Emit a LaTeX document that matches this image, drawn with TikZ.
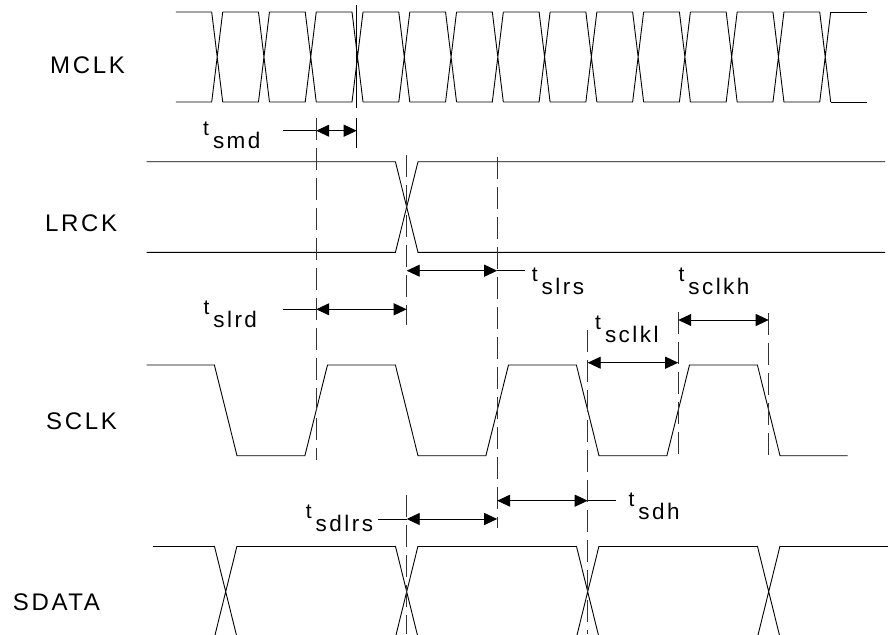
\documentclass[tikz,border=0pt]{standalone}
\usepackage{fontspec}
\newfontfamily\sigfont[LetterSpace=11]{Liberation Sans}
\usetikzlibrary{arrows.meta}
\newcommand{\tpar}[1]{{\fontsize{21}{24}\selectfont\raisebox{13pt}{t}}\kern4pt#1}

\begin{document}
\begin{tikzpicture}[x=1pt,y=-1pt]
	\tikzstyle{WaveStyle} = [line width=0.9pt]
	\tikzstyle{MarkStyle} = [line width=0.9pt, black!80, dash pattern=on 22pt off 8pt]
	\tikzstyle{TimeStyle} = [line width=0.9pt, <->, >={Triangle[length=13pt,width=12pt]}]
	\tikzstyle{SigStyle}  = [inner sep=0pt, anchor=base west, font=\sigfont\fontsize{24}{28}\selectfont]
	\tikzstyle{ParStyle}  = [inner sep=0pt, anchor=base west, font=\sigfont\fontsize{22.5}{26}\selectfont]
	\useasboundingbox (0,0) rectangle (888,634);
	\clip (0,0) rectangle (888,634);
	% signal names
	\node[SigStyle] (mclk) at (50,73.3) {MCLK};
	\node[SigStyle] (lrck) at (45,231.7) {LRCK};
	\node[SigStyle] (sclk) at (46,429.3) {SCLK};
	\node[SigStyle] (sdata) at (12.7,610.7) {SDATA};
	% MCLK
	\foreach \k in {0,...,13} {
		\pgfmathsetmacro{\xa}{211.7+46.77*\k}
		\draw[WaveStyle] (\xa-35.77,12) -- (\xa,12) -- (\xa+11,102)
			(\xa-35.77,102) -- (\xa,102) -- (\xa+11,12);
	}
	\draw[WaveStyle] (830.7,12) -- (866.5,12) (830.7,102) -- (866.5,102);
	% LRCK
	\draw[WaveStyle] (146.7,161.7) -- (395.4,161.7) -- (418,252.3) -- (885,252.3);
	\draw[WaveStyle] (146.7,252.3) -- (395.4,252.3) -- (418,161.7) -- (885,161.7);
	% SCLK
	\draw[WaveStyle] (146.7,365) -- (214.4,365) -- (237,455.7) -- (304.9,455.7) -- (327.5,365)
		-- (395.4,365) -- (418,455.7) -- (485.9,455.7) -- (508.5,365)
		-- (576.4,365) -- (599,455.7) -- (666.9,455.7) -- (689.5,365)
		-- (757.4,365) -- (780,455.7) -- (847.7,455.7);
	% SDATA
	\foreach \c in {225.7,406.7,587.7,768.7}
		\draw[WaveStyle] (\c-11.3,546) -- (\c+11.3,637.4) (\c-11.3,637.4) -- (\c+11.3,546);
	\foreach \xa/\xb in {152.7/214.4,237/395.4,418/576.4,599/757.4,780/888}
		\draw[WaveStyle] (\xa,546) -- (\xb,546) (\xa,637.4) -- (\xb,637.4);
	% markers
	\draw[WaveStyle] (356.7,5) -- (356.7,108) (356.7,118) -- (356.7,148);
	\draw[MarkStyle] (316.2,118) -- (316.2,460);
	\draw[MarkStyle] (406.7,155) -- (406.7,325) (406.7,495) -- (406.7,634);
	\draw[MarkStyle] (497.2,157) -- (497.2,528);
	\draw[MarkStyle] (587.7,330) -- (587.7,634);
	\draw[MarkStyle] (678.2,312) -- (678.2,455);
	\draw[MarkStyle] (768.7,313) -- (768.7,455);
	% timing arrows
	\foreach \nm/\xa/\xb/\y in {smd/316.2/356.7/130.7, slrd/316.2/406.7/309.3,
		slrs/406.7/497.2/270.7, sclkl/587.7/678.2/362.7, sclkh/678.2/768.7/320,
		sdlrs/406.7/497.2/519, sdh/497.2/587.7/500.7} {
		\coordinate (\nm A) at (\xa,\y);
		\coordinate (\nm B) at (\xb,\y);
		\draw[TimeStyle] (\nm A) -- (\nm B);
	}
	\coordinate (smdL) at (283,130.7);
	\coordinate (slrdL) at (282.7,309.3);
	\coordinate (slrsL) at (525,270.7);
	\coordinate (sdlrsL) at (378,519);
	\coordinate (sdhL) at (616,500.7);
	\draw[WaveStyle] (smdL) -- (smdA);
	\draw[WaveStyle] (slrdL) -- (slrdA);
	\draw[WaveStyle] (slrsB) -- (slrsL);
	\draw[WaveStyle] (sdlrsL) -- (sdlrsA);
	\draw[WaveStyle] (sdhB) -- (sdhL);
	% parameter names
	\node[ParStyle] (tsmd) at (203,148.3) {\tpar{smd}};
	\node[ParStyle] (tslrd) at (203.3,327.3) {\tpar{slrd}};
	\node[ParStyle] (tslrs) at (531.7,294.3) {\tpar{slrs}};
	\node[ParStyle] (tsclkh) at (678.3,294) {\tpar{sclkh}};
	\node[ParStyle] (tsclkl) at (595,342.7) {\tpar{sclkl}};
	\node[ParStyle] (tsdlrs) at (305.7,531) {\tpar{sdlrs}};
	\node[ParStyle] (tsdh) at (628.3,519.3) {\tpar{sdh}};
\end{tikzpicture}
\end{document}
